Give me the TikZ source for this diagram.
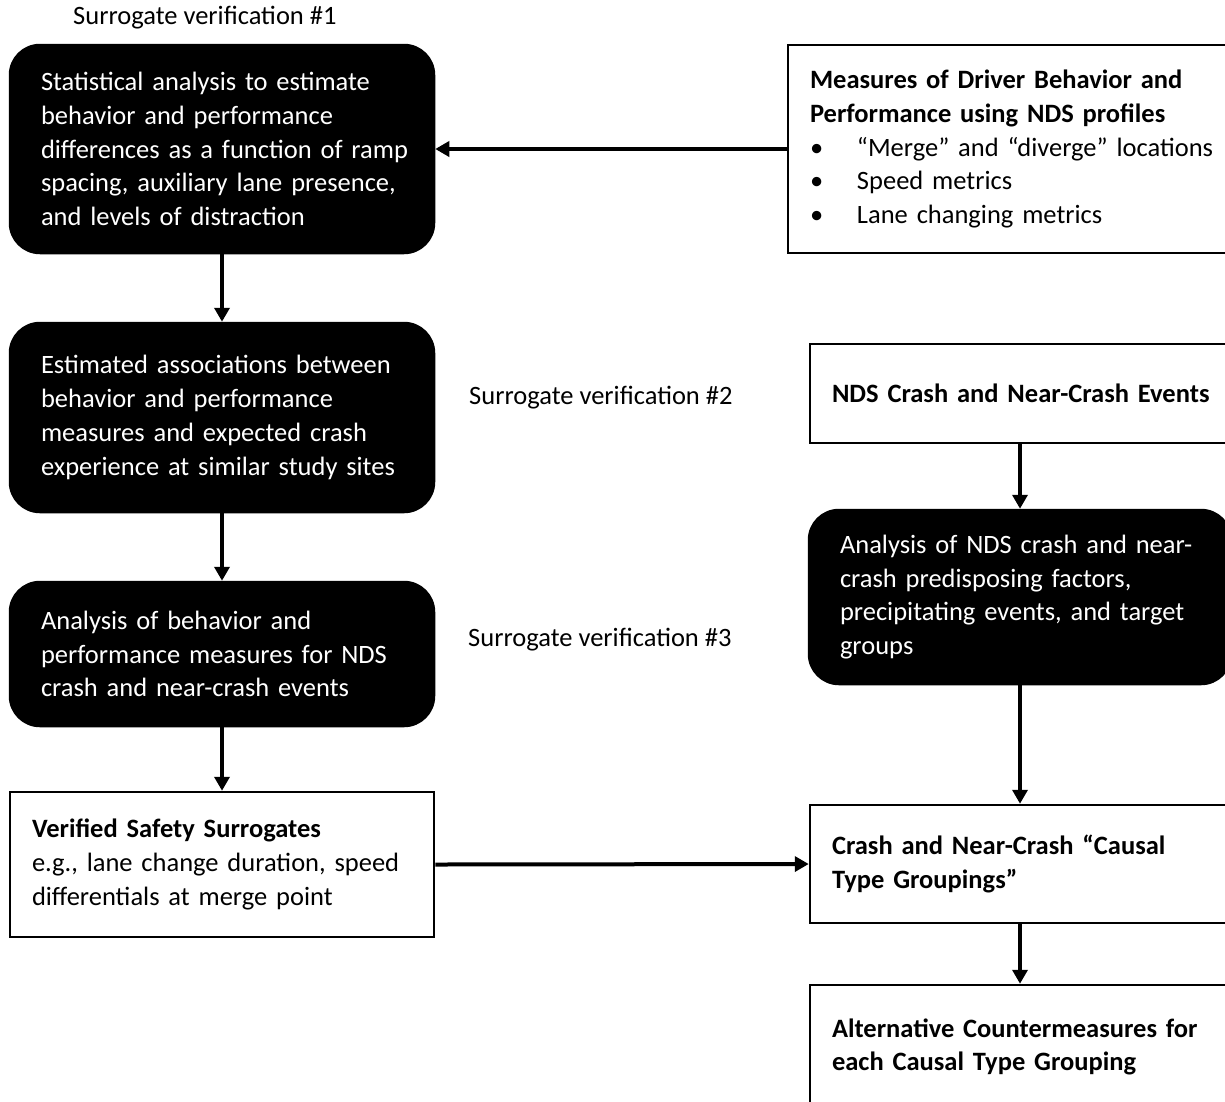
\documentclass[tikz,border=0pt]{standalone}
\usepackage{fontspec}
\setmainfont{Carlito}
\usetikzlibrary{arrows.meta}
\newcommand\lne[1]{\mbox{#1}}
\begin{document}
\begin{tikzpicture}[x=1pt,y=-1pt,
  every node/.style={font=\fontsize{26.5}{33.75}\selectfont},
  blackbox/.style={fill=black,draw=black,line width=2.5pt,rounded corners=30pt,text=white,align=left,inner xsep=31pt,inner ysep=0pt},
  whitebox/.style={draw=black,fill=white,line width=2.5pt,align=left,inner xsep=22pt,inner ysep=0pt},
  arr/.style={line width=4pt,-{Triangle[width=15pt,length=14pt]}},
  lbl/.style={anchor=west,inner sep=0pt}]
\useasboundingbox (0,0) rectangle (1225,1101);
\clip (0,0) rectangle (1225,1101);

% labels
\node[lbl] (l1) at (73,18) {Surrogate verification \#1};
\node[lbl] (l2) at (469,398) {Surrogate verification \#2};
\node[lbl] (l3) at (468,640) {Surrogate verification \#3};

% left column
\node[blackbox,minimum width=424pt,minimum height=208pt,text width=362pt] (b1) at (222,149)
 {\lne{Statistical analysis to estimate}\\\lne{behavior and performance}\\\lne{differences as a function of ramp}\\\lne{spacing, auxiliary lane presence,}\\\lne{and levels of distraction}};
\node[blackbox,minimum width=424pt,minimum height=189pt,text width=362pt] (b2) at (222,417.5)
 {\lne{Estimated associations between}\\\lne{behavior and performance}\\\lne{measures and expected crash}\\\lne{experience at similar study sites}};
\node[blackbox,minimum width=424pt,minimum height=144pt,text width=362pt] (b3) at (222,654)
 {\lne{Analysis of behavior and}\\\lne{performance measures for NDS}\\\lne{crash and near-crash events}};
\node[whitebox,minimum width=424pt,minimum height=145pt,text width=380pt] (b4) at (222,864.5)
 {\lne{\textbf{Verified Safety Surrogates}}\\\lne{e.g., lane change duration, speed}\\\lne{differentials at merge point}};

% right column
\node[whitebox,minimum width=442pt,minimum height=208pt,text width=398pt] (r1) at (1009,149)
 {\lne{\textbf{Measures of Driver Behavior and}}\\\lne{\textbf{Performance using NDS profiles}}\\
  \lne{\makebox[47pt][l]{•}“Merge” and “diverge” locations}\\
  \lne{\makebox[47pt][l]{•}Speed metrics}\\
  \lne{\makebox[47pt][l]{•}Lane changing metrics}};
\node[whitebox,minimum width=420pt,minimum height=99pt,text width=376pt] (r2) at (1020,393.5)
 {\lne{\textbf{NDS Crash and Near-Crash Events}}};
\node[blackbox,minimum width=420pt,minimum height=174pt,text width=360pt] (rb) at (1020,597)
 {\lne{Analysis of NDS crash and near-}\\\lne{crash predisposing factors,}\\\lne{precipitating events, and target}\\\lne{groups}};
\node[whitebox,minimum width=420pt,minimum height=118pt,text width=376pt] (r3) at (1020,864)
 {\lne{\textbf{Crash and Near-Crash “Causal}}\\\lne{\textbf{Type Groupings”}}};
\node[whitebox,minimum width=420pt,minimum height=124pt,text width=376pt] (r4) at (1020,1047)
 {\lne{\textbf{Alternative Countermeasures for}}\\\lne{\textbf{each Causal Type Grouping}}};

% connectors
\draw[arr] (r1.west) -- (b1.east);
\draw[arr] (b1.south) -- (b2.north);
\draw[arr] (b2.south) -- (b3.north);
\draw[arr] (b3.south) -- (b4.north);
\draw[arr] (b4.east) -- (r3.west);
\draw[arr] (r2.south) -- (rb.north);
\draw[arr] (rb.south) -- (r3.north);
\draw[arr] (r3.south) -- (r4.north);
\end{tikzpicture}
\end{document}
